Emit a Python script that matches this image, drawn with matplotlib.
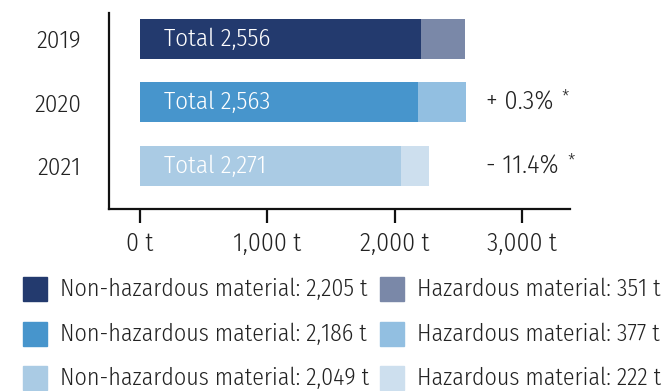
import matplotlib.pyplot as plt
from matplotlib import font_manager
from matplotlib.patches import Rectangle

# condensed sans families, first one installed wins
installed = {f.name for f in font_manager.fontManager.ttflist}
candidates = ['Fira Sans Condensed', 'Roboto Condensed', 'Open Sans Condensed',
              'Encode Sans Condensed', 'Asap Condensed', 'Archivo Narrow',
              'Liberation Sans Narrow']
family = next((c for c in candidates if c in installed), 'DejaVu Sans')
plt.rcParams['font.family'] = [family, 'DejaVu Sans']
plt.rcParams['font.weight'] = 300

# waste volumes per year, in tonnes
years = ['2019', '2020', '2021']
non_hazardous = [2205, 2186, 2049]
hazardous = [351, 377, 222]
changes = ['', '+ 0.3%', '- 11.4%']
xticks = [0, 1000, 2000, 3000]

non_haz_colors = ['#233a6e', '#4795cc', '#aacbe4']
haz_colors = ['#7a88a8', '#92bfe1', '#cddfee']
text_color = '#222222'

W, H = 665, 391
fig = plt.figure(figsize=(W / 100, H / 100), dpi=100)
ax = fig.add_axes([109 / W, 1 - 209 / H, (570 - 109) / W, (209 - 13) / H])

pos = list(range(len(years)))
ax.barh(pos, non_hazardous, height=0.63, color=non_haz_colors)
ax.barh(pos, hazardous, left=non_hazardous, height=0.63, color=haz_colors)

for i in pos:
    total = non_hazardous[i] + hazardous[i]
    ax.annotate(f'Total {total:,}', xy=(0, i), xytext=(17, 0),
                textcoords='offset points', va='center', ha='left',
                color='white', fontsize=18)
    if changes[i]:
        t = ax.text(2718, i, changes[i], va='center', ha='left',
                    color=text_color, fontsize=19)
        ax.annotate('*', xy=(1, 1), xycoords=t, xytext=(6, 1),
                    textcoords='offset points', ha='left', va='top',
                    color=text_color, fontsize=13)

ax.set_xlim(-243, 3378)
ax.set_ylim(2.68, -0.41)

ax.set_yticks(pos, years)
ax.set_xticks(xticks, [f'{v:,} t' for v in xticks])
ax.tick_params(axis='y', length=0, pad=20, labelsize=18, labelcolor=text_color)
ax.tick_params(axis='x', length=10, width=1.6, pad=6, labelsize=18.5,
               labelcolor=text_color, color='#111111')

for side in ['top', 'right']:
    ax.spines[side].set_visible(False)
for side in ['left', 'bottom']:
    ax.spines[side].set_linewidth(1.6)
    ax.spines[side].set_color('#111111')

# legend drawn as a two-column grid below the axes
rows_y = [289, 334, 378]
box = 24
for i, yc in enumerate(rows_y):
    for x0, tx, color, label in [
        (23, 60, non_haz_colors[i], f'Non-hazardous material: {non_hazardous[i]:,} t'),
        (380, 417, haz_colors[i], f'Hazardous material: {hazardous[i]:,} t'),
    ]:
        fig.patches.append(Rectangle((x0 / W, 1 - (yc + box / 2) / H), box / W, box / H,
                                     color=color, transform=fig.transFigure))
        fig.text(tx / W, 1 - yc / H, label, va='center', ha='left',
                 color=text_color, fontsize=17.2)

fig.savefig('out.png', dpi=100)
